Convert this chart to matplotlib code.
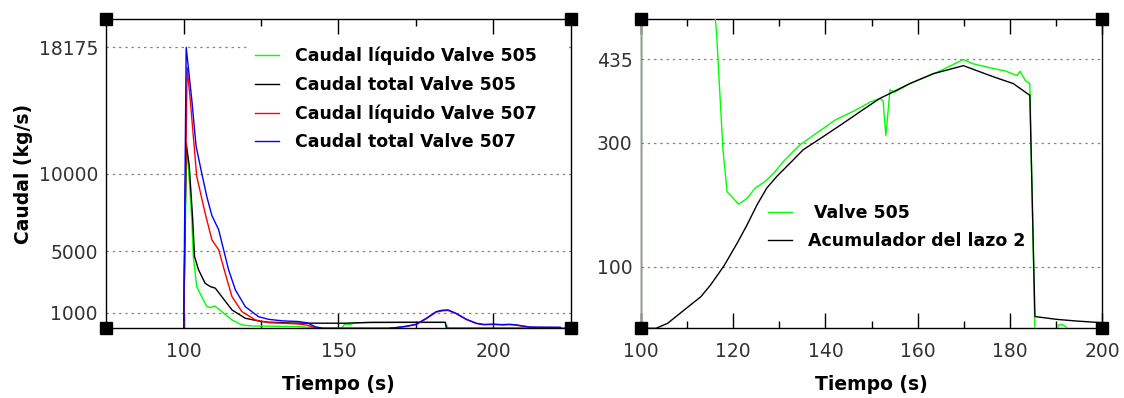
import numpy as np
import matplotlib
matplotlib.use("Agg")
import matplotlib.pyplot as plt
from matplotlib.ticker import FixedLocator, NullFormatter

# --- grafico izquierdo: caudales (kg/s) ---
t_liq505 = [100, 100.9, 101.5, 102.6, 103.1, 104.2, 105.8, 107.5, 108.6, 110.0, 112.3, 115.6,
            118.8, 122, 125, 130, 137, 141, 142, 151, 152, 154, 155, 158, 161, 170, 184.5,
            185.5, 225]
q_liq505 = [0, 11400, 10490, 7140, 4650, 2700, 2050, 1400, 1340, 1450, 1080, 540,
            215, 150, 140, 130, 110, 60, 0, 0, 260, 260, 330, 360, 370, 380, 380,
            0, 0]

t_tot505 = [100, 100.8, 101.8, 102.9, 103.5, 104.8, 106.9, 108.6, 110.2, 112.3, 115.6, 119.9,
            124.2, 127, 135, 145, 152, 160, 175, 184.5, 184.9, 225]
q_tot505 = [0, 12010, 10500, 7060, 4650, 3790, 2920, 2700, 2600, 2050, 1190, 650,
            475, 400, 340, 330, 330, 385, 390, 390, 0, 0]

t_liq507 = [100, 101.1, 102.1, 104.2, 106.9, 109.1, 111.3, 113.4, 115.6, 118.8, 123.2, 127.5,
            133, 137, 140, 142.5, 145, 166, 169.2, 172, 175.1, 178.4, 181.6, 183.5, 185.4, 188,
            191.4, 194.6, 197, 200, 203, 205.4, 207.5, 209.7, 211.9, 216, 221.7]
q_liq507 = [0, 16880, 14825, 9840, 7470, 5730, 5080, 3570, 2050, 1080, 540, 365,
            320, 280, 200, 40, 0, 0, 50, 120, 240, 620, 1050, 1130, 1160, 950,
            560, 310, 230, 250, 220, 240, 200, 130, 70, 60, 50]

t_tot507 = [100, 100.8, 102.6, 104, 105.8, 107.5, 109.1, 111.3, 112.9, 114.5, 116.7, 119.9,
            124.2, 127.5, 132, 137, 140, 142.5, 145, 166, 169.2, 172, 175.1, 178.4, 181.6, 183.5,
            185.4, 188, 191.4, 194.6, 197, 200, 203, 205.4, 207.5, 209.7, 211.9, 216, 221.7]
q_tot507 = [0, 18175, 14825, 11800, 10060, 8500, 7300, 6380, 5080, 3790, 2490, 1400,
            750, 580, 480, 440, 350, 100, 0, 0, 65, 140, 260, 650, 1080, 1170,
            1190, 970, 580, 325, 250, 270, 240, 260, 220, 150, 80, 70, 65]

# --- grafico derecho ---
t_v505 = [100.12, 100.14, 115.9, 116.4, 117.8, 118.7, 121.2, 123, 124.8, 127, 128.8, 130.9,
          133, 134.5, 138.1, 142.1, 146, 149.7, 151.8, 152.5, 153.1, 154, 155, 158.3, 163.4, 165,
          169.9, 172, 177.8, 178.8, 181.5, 182.2, 183.3, 184.3, 185.4, 190, 190.5, 191.2,
          192.3, 193, 200]
v505 = [0, 520, 520, 480, 289, 221, 201, 210, 227, 238, 251, 270,
        286, 297, 316, 337, 351, 366, 372, 368, 312, 386, 382, 396, 412, 417,
        435, 428, 418, 417, 409, 416, 401, 396, -10, -10, 5, 6.5,
        1.6, -10, -10]

t_acum = [100, 103.3, 105.8, 108.3, 110.8, 113, 115.1, 116.9, 118.1, 120.9, 123, 125.2,
          127.3, 129.5, 132.3, 135.2, 139.5, 143.9, 148.2, 151.8, 154, 158.3, 163.4, 169.9,
          173.5, 176.4, 180.7, 184.3, 185.4, 190.1, 194.4, 200]
acum = [0, 0, 8, 23, 38, 51, 70, 89, 102, 138, 167, 200,
        227, 246, 267, 289, 310, 332, 354, 372, 380, 396, 412, 425,
        415, 407, 396, 377, 19, 14.5, 11.8, 9]

yticks_izq = [1000, 5000, 10000, 18175]
yticks_der = [100, 300, 435]

GREEN = '#00ff00'


def estilo(ax, mayores, menores, yticks):
    for s in ax.spines.values():
        s.set_linewidth(1.0)
        s.set_color('black')
        s.set_zorder(6)
    ax.xaxis.set_major_locator(FixedLocator(mayores))
    ax.xaxis.set_minor_locator(FixedLocator(menores))
    ax.xaxis.set_minor_formatter(NullFormatter())
    ax.set_yticks(yticks)
    ax.tick_params(axis='x', which='major', direction='in', length=11, width=1,
                   top=True, labelsize=13.5, labelcolor='#333333', pad=10)
    ax.tick_params(axis='x', which='minor', direction='in', length=5, width=1, top=True)
    ax.tick_params(axis='y', length=0, labelsize=13.5, labelcolor='#333333', pad=6)
    ax.yaxis.grid(True, linestyle=(0, (2, 3)), color='#888888', lw=0.9)
    ax.set_xlabel('Tiempo (s)', fontsize=13.5, fontweight='bold', labelpad=10)
    # cuadrados negros en las esquinas
    ax.plot([0, 1, 0, 1], [0, 0, 1, 1], 's', color='black', ms=8,
            transform=ax.transAxes, clip_on=False, zorder=10)


fig = plt.figure(figsize=(11.24, 3.98), dpi=100)
ax1 = fig.add_axes([0.0946, 0.1751, 0.413, 0.7764])
ax2 = fig.add_axes([0.5701, 0.1751, 0.4106, 0.7764])

ax1.plot(t_liq505, q_liq505, color=GREEN, lw=1.0, label='Caudal líquido Valve 505')
ax1.plot(t_tot505, q_tot505, color='black', lw=1.0, label='Caudal total Valve 505')
ax1.plot(t_liq507, q_liq507, color='red', lw=1.0, label='Caudal líquido Valve 507')
ax1.plot(t_tot507, q_tot507, color='blue', lw=1.0, label='Caudal total Valve 507')
ax1.set_xlim(75, 225)
ax1.set_ylim(0, 20000)
estilo(ax1, [100, 150, 200], [125, 175], yticks_izq)
ax1.set_ylabel('Caudal (kg/s)', fontsize=13.5, fontweight='bold')
ax1.yaxis.set_label_coords(-0.158, 0.5)
leg1 = ax1.legend(loc='upper left', bbox_to_anchor=(0.305, 0.0, 0.69, 0.933),
                  mode='expand', borderaxespad=0,
                  borderpad=0.4, frameon=True, fancybox=False, framealpha=1,
                  edgecolor='none', facecolor='white', handlelength=1.4,
                  handletextpad=0.9, labelspacing=0.6,
                  prop={'size': 12.5, 'weight': 'bold'})
leg1.set_zorder(5)

ax2.plot(t_v505, v505, color=GREEN, lw=1.0, label=' Valve 505', zorder=3)
ax2.plot(t_acum, acum, color='black', lw=1.0, label='Acumulador del lazo 2', zorder=3)
ax2.set_xlim(100, 200)
ax2.set_ylim(0, 500)
estilo(ax2, [100, 120, 140, 160, 180, 200], [110, 130, 150, 170, 190], yticks_der)
# el verde se ve sobre el eje izquierdo en el original
for s in ax2.spines.values():
    s.set_zorder(2.5)
ax2.legend(loc='upper left', bbox_to_anchor=(0.26, 0.425), borderaxespad=0,
           borderpad=0.4, frameon=False, handlelength=1.4,
           handletextpad=0.9, labelspacing=0.6,
           prop={'size': 12.5, 'weight': 'bold'})

fig.savefig('out.png', dpi=100)
